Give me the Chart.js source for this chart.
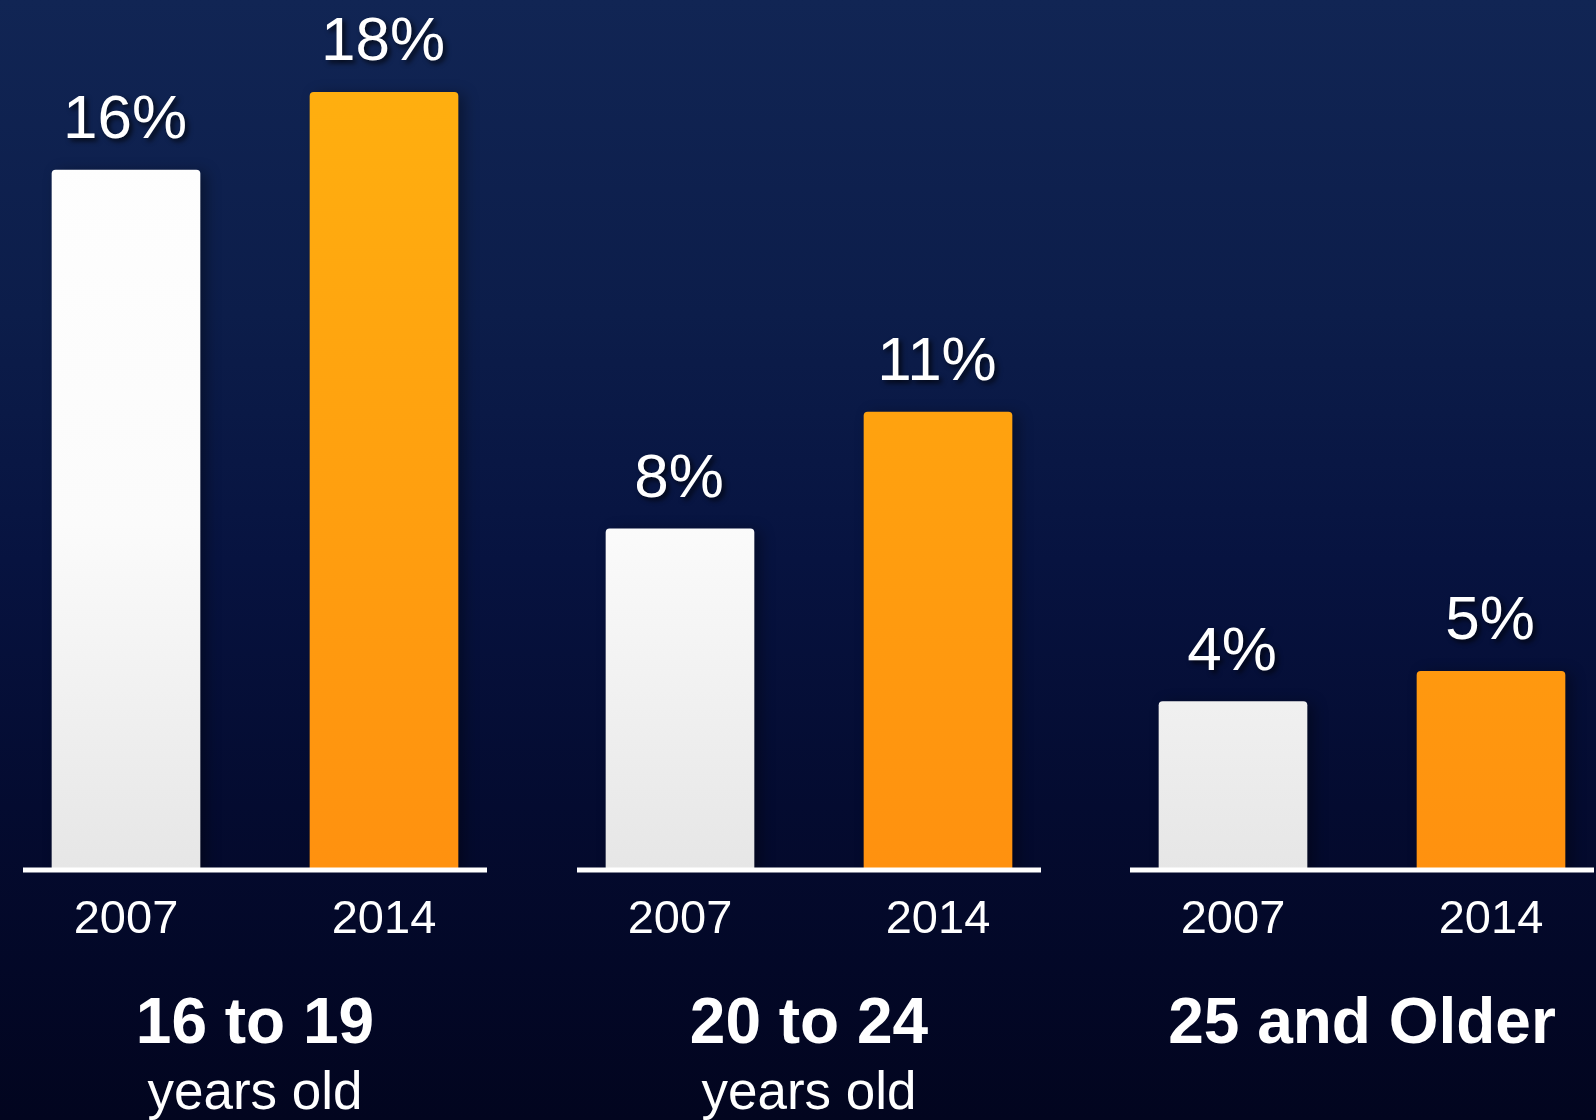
<!DOCTYPE html>
<html>
<head>
<meta charset="utf-8">
<script src="https://cdn.jsdelivr.net/npm/chart.js@4.4.1/dist/chart.umd.min.js"></script>
<style>
  html, body {
    margin: 0;
    padding: 0;
    width: 1596px;
    height: 1120px;
    overflow: hidden;
    background: linear-gradient(180deg, #112554 0%, #0c1d4a 28%, #071340 50%, #040b30 72%, #02051f 100%);
  }
  .group {
    position: absolute;
    top: 0;
    width: 516px;
    height: 1120px;
  }
</style>
</head>
<body>
<div class="group" style="left:-3px"><canvas id="g0"></canvas></div>
<div class="group" style="left:551px"><canvas id="g1"></canvas></div>
<div class="group" style="left:1104px"><canvas id="g2"></canvas></div>

<script>
const groups = ['16 to 19', '20 to 24', '25 and Older'];
const groupSub = ['years old', 'years old', ''];
const years = ['2007', '2014'];
const rate2007 = [16.2, 7.9, 3.9];
const rate2014 = [18.0, 10.6, 4.6];

const FONT = '"Liberation Sans", Arial, Helvetica, sans-serif';

// white bar for 2007, orange for 2014
function barFill(context) {
    const chart = context.chart;
    const area = chart.chartArea;
    if (!area) return context.dataIndex === 0 ? '#f4f4f4' : '#ffa010';
    const g = chart.ctx.createLinearGradient(0, area.top, 0, area.bottom);
    if (context.dataIndex === 0) {
        g.addColorStop(0, '#ffffff');
        g.addColorStop(0.6, '#fbfbfb');
        g.addColorStop(1, '#e6e6e6');
    } else {
        g.addColorStop(0, '#ffb20f');
        g.addColorStop(1, '#ff910f');
    }
    return g;
}

const barShadow = {
    id: 'barShadow',
    beforeDatasetsDraw(chart) {
        const c = chart.ctx;
        c.save();
        c.shadowColor = 'rgba(0,0,0,0.35)';
        c.shadowBlur = 14;
        c.shadowOffsetX = 6;
        c.shadowOffsetY = 2;
    },
    afterDatasetsDraw(chart) {
        chart.ctx.restore();
    }
};

const valueLabels = {
    id: 'valueLabels',
    afterDatasetsDraw(chart) {
        const c = chart.ctx;
        const meta = chart.getDatasetMeta(0);
        c.save();
        c.font = '62px ' + FONT;
        c.fillStyle = '#ffffff';
        c.textAlign = 'center';
        c.textBaseline = 'alphabetic';
        c.shadowColor = 'rgba(0,0,0,0.7)';
        c.shadowBlur = 5;
        c.shadowOffsetX = 3;
        c.shadowOffsetY = 3;
        meta.data.forEach((bar, i) => {
            const v = chart.data.datasets[0].data[i];
            c.fillText(Math.round(v) + '%', bar.x - 1, bar.y - 32);
        });
        c.restore();
    }
};

const baseLine = {
    id: 'baseLine',
    afterDraw(chart) {
        const c = chart.ctx;
        const a = chart.chartArea;
        c.save();
        c.strokeStyle = '#ffffff';
        c.lineWidth = 5;
        c.beginPath();
        c.moveTo(a.left + 26, a.bottom);
        c.lineTo(a.right - 26, a.bottom);
        c.stroke();
        c.restore();
    }
};

const groupLabels = {
    id: 'groupLabels',
    afterDraw(chart, args, opts) {
        const c = chart.ctx;
        const a = chart.chartArea;
        const cx = (a.left + a.right) / 2;
        c.save();
        c.fillStyle = '#ffffff';
        c.textAlign = 'center';
        c.textBaseline = 'alphabetic';
        c.font = 'bold 64px ' + FONT;
        c.fillText(opts.title, cx, a.bottom + 173);
        if (opts.sub) {
            c.font = '53px ' + FONT;
            c.fillText(opts.sub, cx, a.bottom + 239);
        }
        c.restore();
    }
};

function createGroup(i) {
    const canvas = document.getElementById('g' + i);
    canvas.width = 516;
    canvas.height = 1120;
    return new Chart(canvas, {
        type: 'bar',
        data: {
            labels: years,
            datasets: [{
                data: [rate2007[i], rate2014[i]],
                backgroundColor: barFill,
                borderWidth: 0,
                borderRadius: 4,
                barThickness: 148
            }]
        },
        options: {
            responsive: false,
            animation: false,
            layout: { padding: { top: 6, left: 0, right: 0, bottom: 0 } },
            scales: {
                x: {
                    grid: { display: false, drawTicks: false },
                    border: { display: false },
                    ticks: {
                        color: '#ffffff',
                        padding: 22,
                        font: { family: FONT, size: 47 }
                    },
                    afterFit: s => { s.height = 250; }
                },
                y: {
                    display: false,
                    min: 0,
                    max: 20
                }
            },
            plugins: {
                legend: { display: false },
                tooltip: { enabled: false },
                groupLabels: { title: groups[i], sub: groupSub[i] }
            }
        },
        plugins: [barShadow, valueLabels, baseLine, groupLabels]
    });
}

groups.forEach((g, i) => createGroup(i));
</script>
</body>
</html>
